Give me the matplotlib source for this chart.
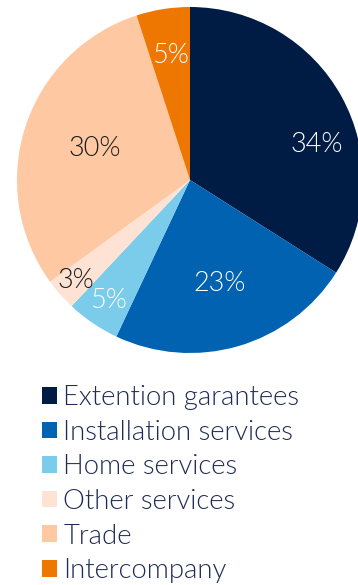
import matplotlib
matplotlib.use("Agg")
import matplotlib.pyplot as plt
import numpy as np

categories = ["Extention garantees", "Installation services", "Home services",
              "Other services", "Trade", "Intercompany"]
values = [34, 23, 5, 3, 30, 5]
labels = ["34%", "23%", "5%", "3%", "30%", "5%"]

colors = ["#001c45", "#0062b0", "#7accea", "#fee3d4", "#fec8a2", "#ee7702"]
label_colors = ["white", "white", "white", "#1a1a1a", "#1a1a1a", "white"]
label_radius = [0.76, 0.62, 0.84, 0.88, 0.58, 0.73]
label_angle_shift = [-13, 0, 0, 0, 0, 0]

plt.rcParams['font.family'] = ['Lato', 'DejaVu Sans']

W, H = 358, 585
fig = plt.figure(figsize=(W / 100, H / 100), dpi=100)
cx, cy, r = 190, 180, 173
ax = fig.add_axes([(cx - r) / W, (H - cy - r) / H, 2 * r / W, 2 * r / H])
wedges, _ = ax.pie(values, colors=colors, startangle=90, counterclock=False,
                   radius=1, wedgeprops=dict(linewidth=0))
ax.set_xlim(-1, 1)
ax.set_ylim(-1, 1)
ax.set_aspect('equal')
ax.axis('off')

for w, lab, c, rr, sh in zip(wedges, labels, label_colors, label_radius, label_angle_shift):
    ang = np.deg2rad((w.theta1 + w.theta2) / 2 + sh)
    ax.text(rr * np.cos(ang), rr * np.sin(ang), lab, ha='center', va='center',
            color=c, fontsize=19.5, fontweight=300)

leg = fig.legend(wedges, categories, loc='upper left',
                 bbox_to_anchor=(42 / W, 1 - 385 / H), frameon=False,
                 prop=dict(size=19.8, weight=300),
                 handlelength=0.55, handleheight=0.55,
                 handletextpad=0.22, labelspacing=0.35, borderaxespad=0,
                 borderpad=0)
for t in leg.get_texts():
    t.set_color("#1f2b55")

fig.savefig("out.png", dpi=100)
